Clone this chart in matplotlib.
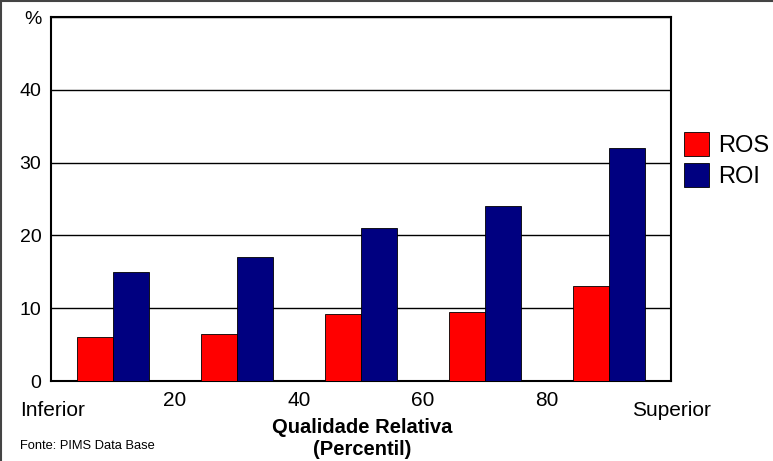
import matplotlib
matplotlib.use("Agg")
import matplotlib.pyplot as plt
from matplotlib.lines import Line2D

plt.rcParams['font.family'] = ['Liberation Sans', 'DejaVu Sans']

# dados
centros = [10, 30, 50, 70, 90]
ros = [6.0, 6.5, 9.2, 9.5, 13.0]
roi = [15.0, 17.0, 21.0, 24.0, 32.0]
series = ["ROS", "ROI"]
cores = ["#ff0000", "#000080"]
yticks = [0, 10, 20, 30, 40, 50]
ytick_labels = ["0", "10", "20", "30", "40", "%"]
xticks = [20, 40, 60, 80]

largura = 5.8

fig = plt.figure(figsize=(7.73, 4.61), dpi=100)
ax = fig.add_axes([51/773, 1 - 381/461, 620/773, 364/461])

ax.bar([c - largura/2 for c in centros], ros, width=largura, color=cores[0],
       edgecolor="black", linewidth=0.6, label=series[0], zorder=3)
ax.bar([c + largura/2 for c in centros], roi, width=largura, color=cores[1],
       edgecolor="black", linewidth=0.6, label=series[1], zorder=3)

ax.set_xlim(0, 100)
ax.set_ylim(0, 50)
ax.set_yticks(yticks)
ax.set_yticklabels(ytick_labels, fontsize=14)
ax.yaxis.grid(True, color="black", linewidth=1)
ax.set_axisbelow(True)
ax.tick_params(axis="y", length=0, pad=7)
for s in ax.spines.values():
    s.set_linewidth(1.5)

ax.set_xticks(xticks)
ax.set_xticklabels([str(t) for t in xticks], fontsize=15)
ax.tick_params(axis="x", length=0, pad=7)

fig.text(20/773, 1 - 410/461, "Inferior", fontsize=15, ha="left", va="center")
fig.text(671/773, 1 - 410/461, "Superior", fontsize=15, ha="center", va="center")
fig.text(362/773, 1 - 438/461, "Qualidade Relativa\n(Percentil)", fontsize=14.5,
         fontweight="bold", ha="center", va="center", linespacing=1.2)
fig.text(20/773, 1 - 446/461, "Fonte: PIMS Data Base", fontsize=9.3, ha="left", va="center")

leg = ax.legend(loc="upper left", bbox_to_anchor=(684/773, 1 - 132/461),
                bbox_transform=fig.transFigure, frameon=False, fontsize=17,
                handlelength=1.05, handleheight=1.2, handletextpad=0.4,
                labelspacing=0.25, borderaxespad=0, borderpad=0)

# moldura externa (esquerda e topo)
fig.add_artist(Line2D([1/773, 1/773], [0, 1], color="#444444", linewidth=1.5,
                      transform=fig.transFigure))
fig.add_artist(Line2D([0, 1], [1 - 1/461, 1 - 1/461], color="#444444", linewidth=1.5,
                      transform=fig.transFigure))

fig.savefig("out.png", dpi=100)
